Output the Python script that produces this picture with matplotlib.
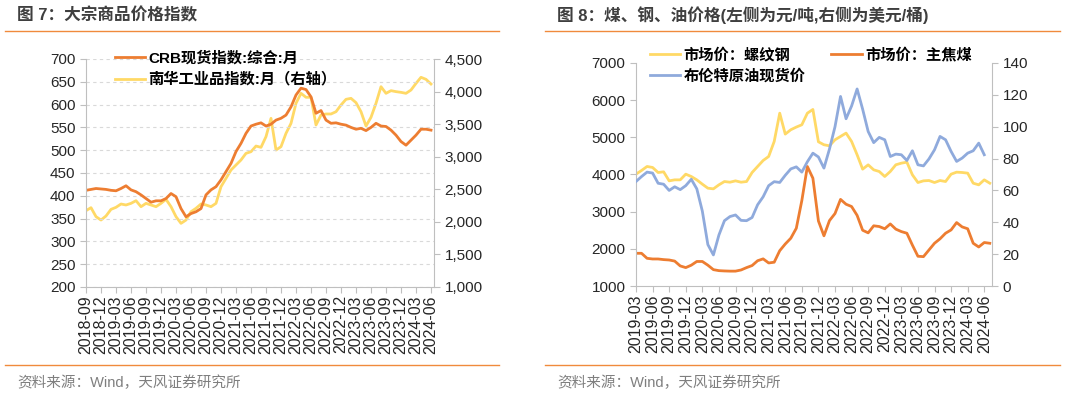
import numpy as np
import matplotlib
matplotlib.use("Agg")
import matplotlib.pyplot as plt
from matplotlib.lines import Line2D
from matplotlib.ticker import FuncFormatter

plt.rcParams['font.family'] = ['Liberation Sans', 'Noto Sans CJK SC', 'DejaVu Sans']
plt.rcParams['axes.unicode_minus'] = False

# ---- 图7 数据 (月度, 2018-09 起) ----
crb = [412, 414, 416, 415, 414, 412, 411, 416, 422, 413, 409, 402, 394, 386,
       389, 389, 394, 405, 398, 372, 354, 361, 365, 372, 402, 413, 420, 435,
       453, 471, 497, 515, 537, 553, 557, 560, 553, 557, 566, 570, 577, 595,
       621, 636, 633, 617, 581, 587, 566, 559, 560, 557, 555, 550, 546, 548,
       543, 550, 559, 553, 552, 544, 533, 519, 511, 522, 533, 546, 546, 544]
nanhua = [2172, 2218, 2080, 2028, 2090, 2192, 2223, 2274, 2259, 2284, 2325,
          2233, 2284, 2259, 2233, 2284, 2346, 2233, 2080, 1977, 2028, 2156,
          2208, 2274, 2259, 2233, 2284, 2540, 2668, 2796, 2873, 2950, 3052,
          3077, 3164, 3144, 3308, 3589, 3103, 3154, 3359, 3512, 3820, 3973,
          3912, 3912, 3487, 3640, 3656, 3656, 3691, 3794, 3881, 3896, 3830,
          3691, 3471, 3605, 3820, 4075, 3973, 4014, 3999, 3988, 3973, 4024,
          4126, 4219, 4188, 4116]
left_labels = ['2018-09', '2018-12', '2019-03', '2019-06', '2019-09', '2019-12',
               '2020-03', '2020-06', '2020-09', '2020-12', '2021-03', '2021-06',
               '2021-09', '2021-12', '2022-03', '2022-06', '2022-09', '2022-12',
               '2023-03', '2023-06', '2023-09', '2023-12', '2024-03', '2024-06']

# ---- 图8 数据 (月度, 2019-03 起) ----
steel = [4009, 4108, 4216, 4189, 4054, 4072, 3829, 3856, 3856, 4009, 3946,
         3856, 3740, 3632, 3614, 3722, 3811, 3793, 3829, 3793, 3811, 4054,
         4216, 4377, 4485, 4889, 5650, 5087, 5204, 5276, 5338, 5650, 5750,
         4880, 4800, 4772, 4934, 5024, 5114, 4889, 4530, 4144, 4260, 4126,
         4081, 3946, 4081, 4261, 4305, 4332, 3991, 3784, 3829, 3838, 3784,
         3838, 3811, 4009, 4063, 4054, 4036, 3766, 3722, 3856, 3766]
coal = [1880, 1880, 1745, 1727, 1727, 1710, 1700, 1670, 1540, 1495, 1560,
        1660, 1660, 1560, 1440, 1413, 1405, 1400, 1400, 1431, 1495, 1550,
        1680, 1730, 1620, 1640, 1950, 2130, 2285, 2554, 3300, 4215, 3900,
        2750, 2350, 2760, 2950, 3330, 3200, 3138, 2900, 2500, 2430, 2620,
        2600, 2540, 2670, 2530, 2464, 2420, 2100, 1800, 1790, 1970, 2150,
        2270, 2420, 2509, 2707, 2590, 2540, 2150, 2050, 2170, 2150]
brent = [65.6, 68.7, 71.5, 70.9, 64.5, 63.9, 60.0, 62.3, 60.5, 63.0, 67.0,
         61.0, 47.0, 26.0, 19.5, 32.0, 41.0, 43.6, 44.6, 41.2, 41.0, 43.0,
         51.0, 56.0, 63.0, 65.5, 65.0, 69.5, 73.5, 74.8, 71.5, 78.0, 83.4,
         81.0, 74.0, 86.0, 100.0, 119.0, 105.0, 113.0, 123.7, 111.0, 97.0,
         90.0, 93.3, 91.8, 81.3, 82.8, 82.4, 78.8, 84.9, 76.1, 75.4, 79.8,
         85.5, 93.9, 91.8, 84.5, 78.2, 80.3, 83.4, 84.9, 89.7, 82.4]
right_labels = ['2019-03', '2019-06', '2019-09', '2019-12', '2020-03', '2020-06',
                '2020-09', '2020-12', '2021-03', '2021-06', '2021-09', '2021-12',
                '2022-03', '2022-06', '2022-09', '2022-12', '2023-03', '2023-06',
                '2023-09', '2023-12', '2024-03', '2024-06']

ORANGE = '#ED7D31'
YELLOW = '#FFD966'
BLUE = '#8FAADC'
SPINE = '#BFBFBF'
TXT = '#262626'


def style_axes(ax, ax2):
    for a in (ax, ax2):
        for s in a.spines.values():
            s.set_visible(False)
    ax.spines['left'].set_visible(True)
    ax.spines['bottom'].set_visible(True)
    ax2.spines['right'].set_visible(True)
    for s in (ax.spines['left'], ax.spines['bottom'], ax2.spines['right']):
        s.set_color(SPINE)
        s.set_linewidth(0.8)
    ax.tick_params(axis='both', colors=SPINE, labelcolor=TXT, length=4,
                   width=0.8, labelsize=11)
    ax2.tick_params(axis='y', colors=SPINE, labelcolor=TXT, length=4,
                    width=0.8, labelsize=11)
    ax.tick_params(axis='x', labelrotation=90, labelsize=11.5, pad=2)


fig = plt.figure(figsize=(10.8, 3.94), dpi=100)

# ================= 图7 =================
ax1 = fig.add_axes([86 / 1080, 1 - 287 / 394, 348 / 1080, 228 / 394])
ax1b = ax1.twinx()
x1 = np.arange(len(crb))
l_crb, = ax1.plot(x1, crb, color=ORANGE, lw=2)
l_nh, = ax1b.plot(x1, nanhua, color=YELLOW, lw=2)
ax1.set_zorder(ax1b.get_zorder() + 1)
ax1.patch.set_visible(False)
ax1.set_ylim(200, 700)
ax1.set_yticks(np.arange(200, 701, 50))
ax1b.set_ylim(1000, 4500)
ax1b.set_yticks(np.arange(1000, 4501, 500))
ax1b.yaxis.set_major_formatter(FuncFormatter(lambda v, p: f'{int(v):,}'))
ax1.set_xlim(0, 69.6)
ax1.set_xticks(np.arange(0, 3 * len(left_labels), 3))
ax1.set_xticklabels(left_labels)
ax1.grid(axis='y', color='#D9D9D9', ls=(0, (3, 3)), lw=0.8)
style_axes(ax1, ax1b)
ax1.legend([l_crb, l_nh], ['CRB现货指数:综合:月', '南华工业品指数:月（右轴）'],
           loc='upper left', bbox_to_anchor=(0.083, 1.035), frameon=False,
           borderaxespad=0, borderpad=0, handlelength=2.0, handletextpad=0.2,
           labelspacing=0.42, prop={'size': 11, 'weight': 'bold'})

# ================= 图8 =================
ax2 = fig.add_axes([636 / 1080, 1 - 286 / 394, 356 / 1080, 223 / 394])
ax2b = ax2.twinx()
l_st, = ax2.plot(np.arange(len(steel)), steel, color=YELLOW, lw=2)
l_co, = ax2.plot(np.arange(len(coal)), coal, color=ORANGE, lw=2)
l_br, = ax2b.plot(np.arange(len(brent)), brent, color=BLUE, lw=2)
ax2.set_ylim(1000, 7000)
ax2.set_yticks(np.arange(1000, 7001, 1000))
ax2b.set_ylim(0, 140)
ax2b.set_yticks(np.arange(0, 141, 20))
ax2.set_xlim(0, 64.4)
ax2.set_xticks(np.arange(0, 3 * len(right_labels), 3))
ax2.set_xticklabels(right_labels)
style_axes(ax2, ax2b)
ax2.legend([l_st, l_br, l_co], ['市场价：螺纹钢', '布伦特原油现货价', '市场价：主焦煤'],
           ncol=2, loc='upper left', bbox_to_anchor=(0.039, 1.07), frameon=False,
           borderaxespad=0, borderpad=0, handlelength=2.0, handletextpad=0.2,
           labelspacing=0.42, columnspacing=1.7,
           prop={'size': 11, 'weight': 'bold'})

# ---- 标题、分隔线、来源 ----
title_kw = dict(fontsize=12, fontweight='bold', color='#3F3F3F', va='center')
fig.text(17 / 1080, 1 - 15 / 394, '图 7：大宗商品价格指数', **title_kw)
fig.text(557 / 1080, 1 - 15 / 394, '图 8：煤、钢、油价格(左侧为元/吨,右侧为美元/桶)', **title_kw)
for (x0, x1_) in [(5, 499), (545, 1060)]:
    for yy in (31, 365):
        fig.add_artist(Line2D([x0 / 1080, x1_ / 1080], [1 - yy / 394, 1 - yy / 394],
                              color='#F08A3C', lw=1))
src_kw = dict(fontsize=10.5, color='#7F7F7F', va='center')
fig.text(17 / 1080, 1 - 383 / 394, '资料来源：Wind，天风证券研究所', **src_kw)
fig.text(557 / 1080, 1 - 383 / 394, '资料来源：Wind，天风证券研究所', **src_kw)

fig.savefig('out.png', dpi=100, facecolor='white')
